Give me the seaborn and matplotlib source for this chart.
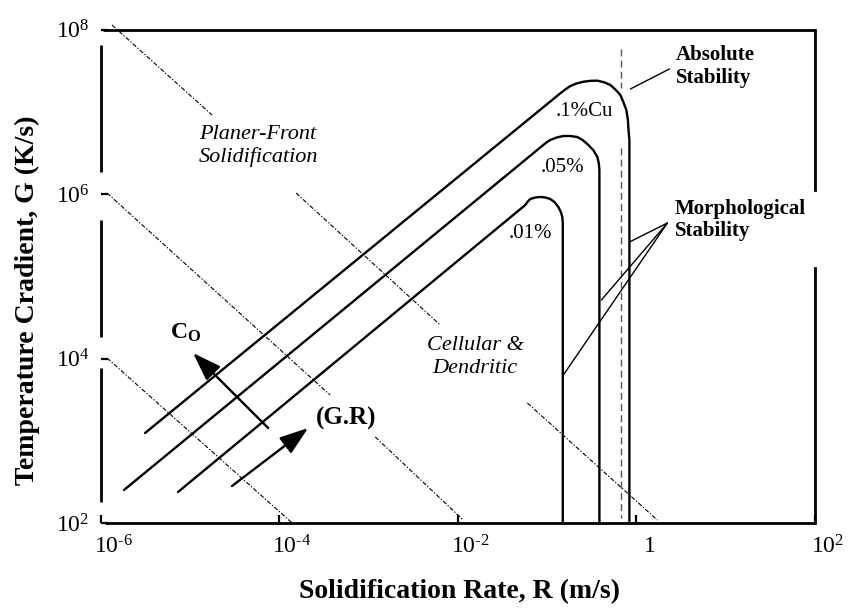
import numpy as np
import pandas as pd
import matplotlib
matplotlib.use("Agg")
import matplotlib.pyplot as plt
import matplotlib.transforms as mtransforms
from matplotlib.ticker import NullLocator
import seaborn as sns

# ---------------- data (log10 exponents) ----------------
# .1%Cu curve: planar/cellular boundary (diagonal), rounded top, morphological stability (vertical)
cu10_logR = [-5.501, -0.852, -0.796, -0.739, -0.672, -0.594, -0.515, -0.437, -0.359, -0.291,
             -0.235, -0.179, -0.146, -0.112, -0.095, -0.088, -0.078, -0.078]
cu10_logG = [3.094, 7.224, 7.271, 7.313, 7.343, 7.365, 7.376, 7.378, 7.358, 7.325,
             7.271, 7.204, 7.119, 7.021, 6.900, 6.778, 6.657, 2.0]
# .05% curve
cu05_logR = [-5.737, -1.042, -1.003, -0.964, -0.890, -0.818, -0.740, -0.661, -0.600, -0.538,
             -0.480, -0.437, -0.420, -0.414, -0.414, -0.414]
cu05_logG = [2.401, 6.596, 6.630, 6.657, 6.688, 6.705, 6.705, 6.693, 6.655, 6.596,
             6.530, 6.450, 6.370, 6.292, 6.170, 2.0]
# .01% curve
cu01_logR = [-5.132, -1.244, -1.215, -1.188, -1.130, -1.076, -1.020, -0.964, -0.915, -0.874,
             -0.845, -0.829, -0.824, -0.824]
cu01_logG = [2.377, 5.866, 5.910, 5.939, 5.958, 5.964, 5.958, 5.939, 5.900, 5.842,
             5.780, 5.720, 5.650, 2.0]
curve_labels = [".1%Cu", ".05%", ".01%"]

# constant G.R lines (dash-dot), as segments (log10 R, log10 G)
iso_segments = [
    [(-5.871, 8.055), (-4.751, 6.960)],
    [(-3.810, 6.012), (-2.196, 4.407)],
    [(-1.221, 3.459), (0.235, 2.036)],
    [(-5.927, 6.012), (-3.429, 3.556)],
    [(-2.924, 3.046), (-1.938, 2.036)],
    [(-5.927, 4.006), (-3.854, 2.000)],
]

# absolute stability (dashed vertical)
abs_logR = -0.174
abs_segments_logG = [(7.763, 7.289), (6.559, 2.061)]

# arrows (tail, head) in log10 units
co_arrow = [(-4.123, 3.155), (-4.964, 4.067)]
gr_arrow = [(-4.527, 2.450), (-3.675, 3.155)]

# leader lines
abs_leader = [(-0.067, 7.277), (0.370, 7.520)]
morph_apex = (0.347, 5.647)
morph_targets = [(-0.078, 5.416), (-0.392, 4.711), (-0.818, 3.799)]

# axes ticks
x_ticks = [1e-6, 1e-4, 1e-2, 1, 1e2]
x_ticklabels = [r"$10^{\text{-}6}$", r"$10^{\text{-}4}$", r"$10^{\text{-}2}$", "1", r"$10^{2}$"]
y_ticks = [1e2, 1e4, 1e6, 1e8]
y_ticklabels = [r"$10^{2}$", r"$10^{4}$", r"$10^{6}$", r"$10^{8}$"]

# ---------------- style ----------------
sns.set_theme(style="white")
plt.rcParams["font.family"] = ["Liberation Serif", "DejaVu Serif"]
plt.rcParams["mathtext.fontset"] = "custom"
plt.rcParams["mathtext.rm"] = "Liberation Serif"
plt.rcParams["mathtext.it"] = "Liberation Serif:italic"
plt.rcParams["mathtext.bf"] = "Liberation Serif:bold"
plt.rcParams["text.color"] = "black"
plt.rcParams["axes.labelcolor"] = "black"
plt.rcParams["xtick.color"] = "black"
plt.rcParams["ytick.color"] = "black"

W, H = 850, 612
fig = plt.figure(figsize=(W / 100, H / 100), dpi=100)
ax = fig.add_axes([100.5 / W, 1 - 523 / H, 714.5 / W, 493.5 / H])
ax.set_xscale("log")
ax.set_yscale("log")
ax.set_xlim(1e-6, 1e2)
ax.set_ylim(1e2, 1e8)


def fx(px, py):
    return (px / W, 1 - py / H)


# ---------------- curves ----------------
frames = []
for lab, lr, lg in [(curve_labels[0], cu10_logR, cu10_logG),
                    (curve_labels[1], cu05_logR, cu05_logG),
                    (curve_labels[2], cu01_logR, cu01_logG)]:
    frames.append(pd.DataFrame({"R": 10.0 ** np.array(lr), "G": 10.0 ** np.array(lg), "c": lab}))
df = pd.concat(frames, ignore_index=True)
sns.lineplot(data=df, x="R", y="G", units="c", estimator=None, sort=False,
             color="black", lw=1.7, ax=ax, legend=False, solid_joinstyle="round")
ax.set_xlabel("")
ax.set_ylabel("")

# iso G.R lines
for (a, b) in iso_segments:
    ax.plot([10 ** a[0], 10 ** b[0]], [10 ** a[1], 10 ** b[1]], color="black", lw=0.8,
            linestyle=(0, (4, 1.6, 1.2, 1.6)), clip_on=False)

# absolute stability dashed line
for (g0, g1) in abs_segments_logG:
    ax.plot([10 ** abs_logR] * 2, [10 ** g0, 10 ** g1], color="#555555", lw=1.0,
            linestyle=(0, (5, 3)))

# leader lines
ax.plot([10 ** abs_leader[0][0], 10 ** abs_leader[1][0]],
        [10 ** abs_leader[0][1], 10 ** abs_leader[1][1]], color="black", lw=1.0)
for t in morph_targets:
    ax.plot([10 ** morph_apex[0], 10 ** t[0]], [10 ** morph_apex[1], 10 ** t[1]],
            color="black", lw=1.0)

# arrows
for tail, head in (co_arrow, gr_arrow):
    ax.annotate("", xy=(10 ** head[0], 10 ** head[1]), xytext=(10 ** tail[0], 10 ** tail[1]),
                arrowprops=dict(arrowstyle="-|>,head_length=1.1,head_width=0.38",
                                mutation_scale=16, color="black", lw=1.7,
                                shrinkA=0, shrinkB=0))

# ---------------- frame ----------------
for s in ax.spines.values():
    s.set_visible(False)
flw = 2.0
ax.plot([0.004, 1], [1, 1], transform=ax.transAxes, color="black", lw=flw, clip_on=False,
        solid_capstyle="butt")
ax.plot([0.006, 1], [0, 0], transform=ax.transAxes, color="black", lw=flw, clip_on=False,
        solid_capstyle="butt")
ytr = ax.get_yaxis_transform()
for (a, b) in [(6.049, 8.0), (2.0, 5.100)]:
    ax.plot([1, 1], [10 ** a, 10 ** b], transform=ytr, color="black", lw=flw, clip_on=False,
            solid_capstyle="projecting")
for (a, b) in [(2.255, 3.884), (4.261, 5.684), (6.267, 7.81)]:
    ax.plot([0, 0], [10 ** a, 10 ** b], transform=ytr, color="black", lw=flw, clip_on=False,
            solid_capstyle="butt")

# ---------------- ticks ----------------
ax.set_xticks(x_ticks)
ax.set_xticklabels(x_ticklabels)
ax.set_yticks(y_ticks)
ax.set_yticklabels(y_ticklabels)
ax.xaxis.set_minor_locator(NullLocator())
ax.yaxis.set_minor_locator(NullLocator())
ax.tick_params(axis="x", direction="in", length=6, width=1.6, pad=9, labelsize=17,
               colors="black", bottom=True)
ax.tick_params(axis="y", direction="in", length=5, width=1.6, pad=8, labelsize=17,
               colors="black", left=True)
off = mtransforms.ScaledTranslation(13 / 100, 0, fig.dpi_scale_trans)
for lbl in ax.get_xticklabels():
    lbl.set_transform(lbl.get_transform() + off)

# ---------------- text ----------------
fig.text(*fx(460, 592), "Solidification Rate, R (m/s)", ha="center", va="center",
         fontsize=20, fontweight="bold", color="black")
fig.text(*fx(27, 300), "Temperature Cradient, G (K/s)", ha="center", va="center",
         fontsize=20, fontweight="bold", rotation=90, color="black")

fig.text(*fx(584, 112), curve_labels[0], ha="center", va="center", fontsize=15)
fig.text(*fx(562, 168), curve_labels[1], ha="center", va="center", fontsize=15)
fig.text(*fx(530, 233), curve_labels[2], ha="center", va="center", fontsize=15)

fig.text(*fx(258, 146), "Planer-Front\nSolidification", ha="center", va="center",
         fontsize=16, style="italic", linespacing=1.25)
fig.text(*fx(475, 357), "Cellular &\nDendritic", ha="center", va="center",
         fontsize=16, style="italic", linespacing=1.25)

fig.text(*fx(676, 66), "Absolute\nStability", ha="left", va="center",
         fontsize=15, fontweight="bold", linespacing=1.2)
fig.text(*fx(675, 220), "Morphological\nStability", ha="left", va="center",
         fontsize=15, fontweight="bold", linespacing=1.15)

fig.text(*fx(346, 418), "(G.R)", ha="center", va="center", fontsize=18, fontweight="bold")
fig.text(*fx(170, 333), r"C$_\mathbf{O}$", ha="left", va="center", fontsize=17,
         fontweight="bold")

fig.savefig("out.png", dpi=100, facecolor="white")
